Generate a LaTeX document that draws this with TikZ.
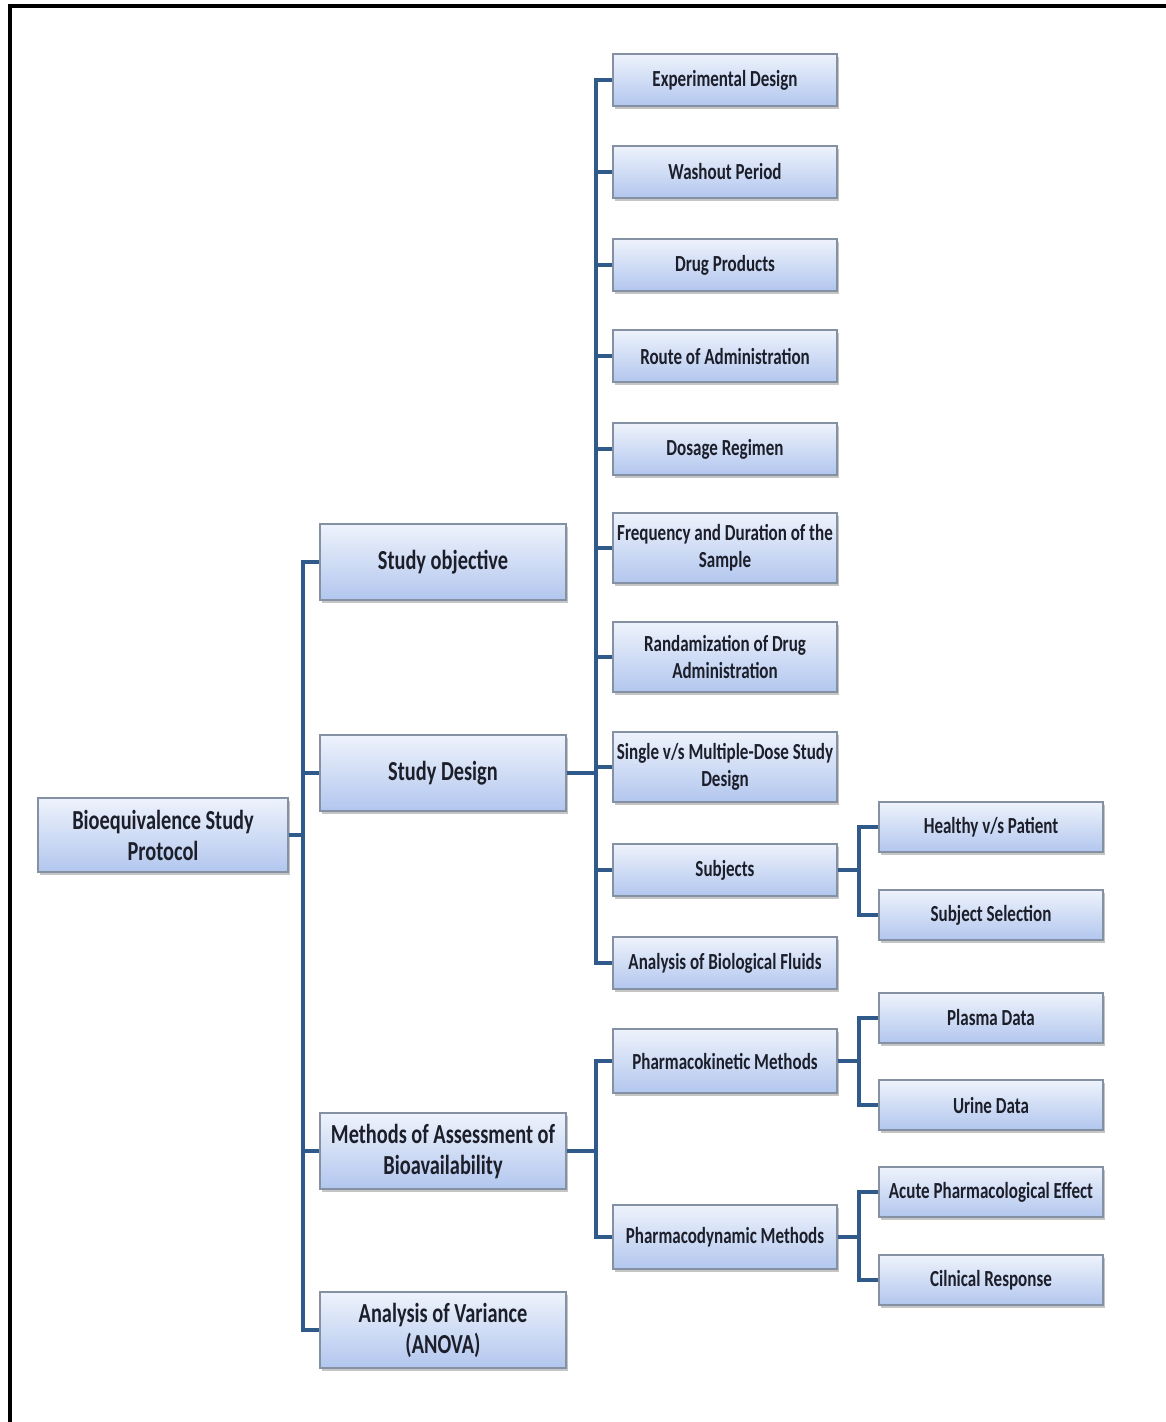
\documentclass[tikz,border=0pt]{standalone}
\usepackage{fontspec}
\setmainfont{Carlito}[FakeStretch=0.74]
\usetikzlibrary{shadows}
\definecolor{linkblue}{HTML}{2F5A8A}
\definecolor{boxtop}{HTML}{EEF3FC}
\definecolor{boxbottom}{HTML}{B2C6EE}
\definecolor{boxline}{HTML}{8491A3}
\definecolor{boxtext}{HTML}{1C1F2A}

\begin{document}
\begin{tikzpicture}[x=1pt,y=1pt,
  box/.style={draw=boxline, line width=1.3pt, top color=boxtop, bottom color=boxbottom, text=boxtext,
    drop shadow={shadow xshift=2pt, shadow yshift=-3pt, fill=black!45}, align=center, inner sep=2pt},
  bigbox/.style={box, minimum width=246pt, minimum height=76pt, font=\fontsize{27.5}{31}\selectfont\bfseries},
  smallbox/.style={box, minimum width=224pt, minimum height=52pt, font=\fontsize{23}{27}\selectfont\bfseries},
  tallbox/.style={smallbox, minimum height=70pt},
  link/.style={draw=linkblue, line width=4pt}]
\fill[white] (0,0) rectangle (1166,-1422);
\useasboundingbox (0,0) rectangle (1166,-1422);
\draw[line width=4pt] (10,-1422) -- (10,-6) -- (1166,-6);

\node[bigbox, minimum width=250pt, minimum height=74pt] (root) at (163,-835) {Bioequivalence Study\\Protocol};

\node[bigbox] (so) at (443,-562) {Study objective};
\node[bigbox] (sd) at (443,-773) {Study Design};
\node[bigbox] (ma) at (443,-1151) {Methods of Assessment of\\Bioavailability};
\node[bigbox] (av) at (443,-1330) {Analysis of Variance\\(ANOVA)};

\node[smallbox] (ed) at (725,-80) {Experimental Design};
\node[smallbox] (wp) at (725,-172) {Washout Period};
\node[smallbox] (dp) at (725,-265) {Drug Products};
\node[smallbox] (ra) at (725,-356) {Route of Administration};
\node[smallbox] (dr) at (725,-449) {Dosage Regimen};
\node[tallbox] (fd) at (725,-548) {Frequency and Duration of the\\Sample};
\node[tallbox] (rd) at (725,-657) {Randamization of Drug\\Administration};
\node[tallbox] (sm) at (725,-767) {Single v/s Multiple-Dose Study\\Design};
\node[smallbox] (su) at (725,-870) {Subjects};
\node[smallbox] (ab) at (725,-963) {Analysis of Biological Fluids};
\node[smallbox, minimum height=64pt] (pk) at (725,-1061) {Pharmacokinetic Methods};
\node[smallbox, minimum height=64pt] (pd) at (725,-1237) {Pharmacodynamic Methods};

\node[smallbox, minimum height=50pt] (hp) at (991,-827) {Healthy v/s Patient};
\node[smallbox, minimum height=50pt] (ss) at (991,-915) {Subject Selection};
\node[smallbox, minimum height=50pt] (pl) at (991,-1018) {Plasma Data};
\node[smallbox, minimum height=50pt] (ur) at (991,-1105) {Urine Data};
\node[smallbox, minimum height=50pt] (ac) at (991,-1192) {Acute Pharmacological Effect};
\node[smallbox, minimum height=50pt] (cr) at (991,-1280) {Cilnical Response};

\foreach \c in {so,sd,ma,av}
  \draw[link] (root.east) -- ++(14,0) |- (\c.west);
\foreach \c in {ed,wp,dp,ra,dr,fd,rd,sm,su,ab}
  \draw[link] (sd.east) -- ++(29,0) |- (\c.west);
\foreach \c in {pk,pd}
  \draw[link] (ma.east) -- ++(29,0) |- (\c.west);
\foreach \c in {hp,ss}
  \draw[link] (su.east) -- ++(21,0) |- (\c.west);
\foreach \c in {pl,ur}
  \draw[link] (pk.east) -- ++(21,0) |- (\c.west);
\foreach \c in {ac,cr}
  \draw[link] (pd.east) -- ++(21,0) |- (\c.west);
\end{tikzpicture}
\end{document}
